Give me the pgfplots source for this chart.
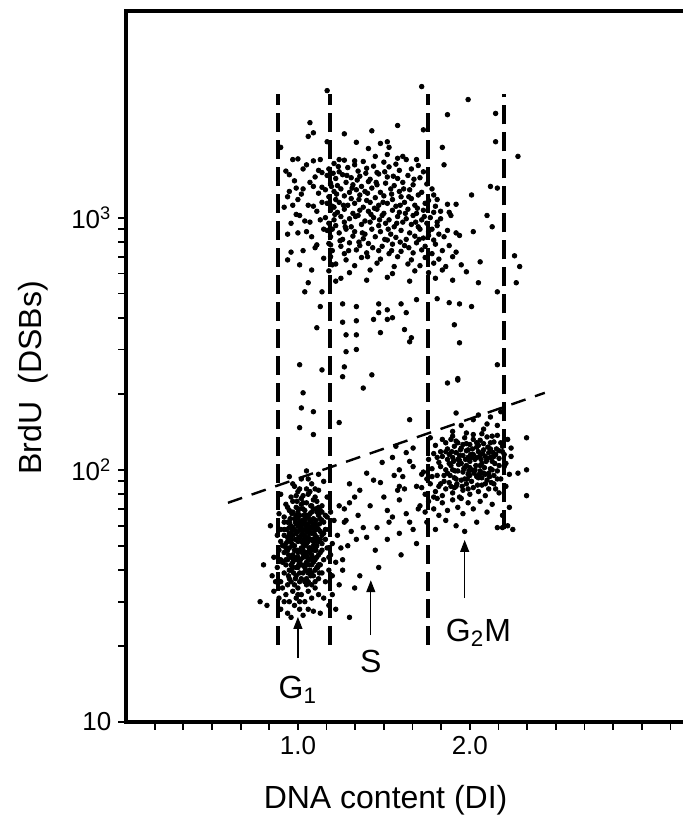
\documentclass[border=0pt]{standalone}
\usepackage{fontspec}
\setmainfont{Liberation Sans}
\usepackage{pgfplots}
\pgfplotsset{compat=1.18}
\usetikzlibrary{arrows.meta}
\begin{document}
\begin{tikzpicture}
\path[use as bounding box] (-63pt,-51.5pt) rectangle (278.5pt,361pt);
\begin{axis}[
  scale only axis, width=278.5pt, height=355.5pt,
  xmin=0, xmax=3.24, ymin=10, ymax=6600, ymode=log,
  axis x line*=box, axis y line*=left,
  separate axis lines,
  every outer x axis line/.append style={-},
  every outer y axis line/.append style={-},
  xtick={1,2}, xticklabels={1.0,2.0},
  minor xtick={0.1667,0.3333,0.5,0.6667,0.8333,1.1667,1.3333,1.5,1.6667,1.8333,2.1667,2.3333,2.5,2.6667,2.8333,3,3.1667},
  ytick={10,100,1000}, yticklabels={10,10\textsuperscript{2},10\textsuperscript{3}},
  tick align=outside, xtick pos=left, ytick pos=left,
  major tick length=3.8pt, minor tick length=3.8pt,
  tick style={black, line width=0.9pt},
  ticklabel style={font=\fontsize{13}{15}\selectfont},
  xlabel={DNA content (DI)}, ylabel={BrdU\ \ (DSBs)},
  label style={font=\fontsize{16}{19}\selectfont},
  xlabel style={at={(axis description cs:0.466,-0.11)}, anchor=center},
  ylabel style={at={(axis description cs:-0.167,0.484)}, anchor=center},
  clip=false,
]
% gates
\addplot[black, line width=1.8pt, dash pattern=on 9.5pt off 4pt] coordinates {(0.884,20.2)(0.884,3080)};
\addplot[black, line width=1.8pt, dash pattern=on 9.5pt off 4pt] coordinates {(1.186,20.2)(1.186,3080)};
\addplot[black, line width=1.8pt, dash pattern=on 9.5pt off 4pt] coordinates {(1.756,20.2)(1.756,3080)};
\addplot[black, line width=1.8pt, dash pattern=on 9.5pt off 4pt] coordinates {(2.198,58)(2.198,3080)};
\addplot[black, line width=1.2pt, dash pattern=on 7.5pt off 5pt] coordinates {(0.593,74)(2.436,202)};
% G1 cluster
\addplot[only marks, mark=*, mark size=1.15pt, black] coordinates {
(1.02,92)(1.08,88)(1.12,96)(0.98,86)(1.15,90)(1.05,99)(1.10,84)(0.95,94)
(0.96,78)(1.00,82)(1.03,74)(1.06,80)(1.09,76)(1.12,83)(1.14,72)(0.93,73)(0.99,71)(1.05,84)(1.11,70)(1.17,78)(0.90,80)(1.02,77)(1.08,72)
(0.92,65)(0.94,62)(0.97,68)(0.99,61)(1.01,66)(1.03,63)(1.04,69)(1.06,60)(1.07,67)(1.09,64)(1.10,61)(1.12,66)(1.13,69)(1.15,62)(1.17,65)(1.19,68)(0.89,67)(0.95,69)(1.00,64)(1.02,60)(1.05,66)(1.08,62)(1.11,68)(1.14,63)(1.21,63)
(0.88,55)(0.90,52)(0.92,58)(0.93,51)(0.95,56)(0.96,53)(0.97,59)(0.98,50)(1.00,57)(1.01,54)(1.02,52)(1.03,58)(1.04,55)(1.05,51)(1.06,59)(1.07,53)(1.08,56)(1.09,50)(1.10,58)(1.11,54)(1.12,52)(1.13,57)(1.14,55)(1.16,53)(1.18,58)(1.20,51)(0.94,54)(0.99,56)(1.01,59)(1.04,50)(1.06,54)(1.08,59)(1.10,52)(1.15,56)(1.23,55)
(0.86,45)(0.89,48)(0.91,43)(0.92,47)(0.94,44)(0.95,49)(0.96,42)(0.97,46)(0.98,48)(0.99,44)(1.00,47)(1.01,43)(1.02,49)(1.03,45)(1.04,42)(1.05,47)(1.06,44)(1.07,49)(1.08,46)(1.09,43)(1.10,48)(1.11,45)(1.12,42)(1.13,47)(1.15,44)(1.17,49)(1.19,46)(0.93,49)(0.97,43)(1.00,45)(1.03,48)(1.05,43)(1.08,42)(1.14,48)(1.22,43)
(0.85,38)(0.88,41)(0.90,36)(0.92,39)(0.93,42)(0.95,37)(0.96,40)(0.98,35)(0.99,38)(1.00,41)(1.01,36)(1.03,39)(1.04,41)(1.05,37)(1.07,40)(1.08,35)(1.09,38)(1.11,41)(1.12,37)(1.14,39)(1.16,36)(1.18,40)(0.94,35)(0.97,41)(1.02,37)(1.06,39)(1.10,36)(1.13,42)(0.87,36)(1.20,38)
(0.86,33)(0.89,31)(0.91,34)(0.93,32)(0.95,30)(0.97,33)(0.99,31)(1.00,34)(1.02,32)(1.04,30)(1.06,33)(1.08,31)(1.10,34)(1.12,32)(0.92,30)(1.01,30)(1.05,35)(1.15,31)
(0.90,28)(0.94,27)(0.98,29)(1.01,28)(1.03,26.5)(1.06,28)(0.96,26)(1.09,27.5)(0.82,29)(1.13,27)
(0.80,42)(0.78,30)(1.25,49)(1.27,62)(1.24,72)(1.26,40)(0.84,60)(1.18,29)(1.20,32)
(0.935,58)(0.945,46)(0.955,64)(0.965,51)(0.975,39)(0.985,62)(0.995,48)(1.005,70)(1.015,44)(1.025,56)(1.035,66)(1.045,40)(1.055,61)(1.065,49)(1.075,72)(1.085,45)(1.095,57)(1.105,63)(1.115,41)
(0.94,71)(0.96,60)(0.98,45)(1.00,52)(1.02,73)(1.04,62)(1.06,47)(1.08,68)(1.10,55)(1.12,46)(0.95,40)(0.97,55)(0.99,66)(1.01,39)(1.03,61)(1.05,57)(1.07,44)(1.09,70)(1.11,59)
(0.93,44)(0.97,75)(1.01,62)(1.05,74)(1.09,52)(1.13,64)(0.96,36)(1.00,32)(1.04,36)(1.08,39)(0.94,52)(0.98,58)(1.02,42)(1.06,65)(1.10,44)(1.14,51)(0.99,53)(1.03,51)(1.07,58)(1.11,75)
(0.95,59)(1.04,53)(1.00,60)(1.06,36)(1.12,58)(0.92,62)(1.16,66)(0.90,58)(1.18,45)
(0.94,48)(0.955,55)(0.965,67)(0.975,44)(0.985,53)(0.995,75)(1.005,42)(1.015,58)(1.025,47)(1.035,53)(1.045,64)(1.055,45)(1.065,56)(1.075,38)(1.085,60)(1.095,48)(1.105,70)(1.115,53)(1.125,61)
(0.95,62)(0.96,45)(0.97,50)(0.98,64)(0.99,41)(1.00,68)(1.01,48)(1.02,55)(1.03,70)(1.04,46)(1.05,60)(1.06,52)(1.07,63)(1.08,48)(1.09,60)(1.10,40)(1.11,50)(1.12,71)(1.13,53)
(0.945,38)(0.965,57)(0.985,37)(1.005,54)(1.025,63)(1.045,58)(1.065,42)(1.085,53)(1.105,48)(1.125,39)(0.99,79)(1.03,79)(1.07,82)(1.01,84)(0.97,88)(1.06,92)(1.10,78)(1.14,68)(1.16,58)(0.91,50)(0.90,44)(0.92,55)
};
% S phase
\addplot[only marks, mark=*, mark size=1.15pt, black] coordinates {
(1.36,83)(1.48,89)(1.44,91)(1.38,59)(1.46,59)(1.40,54)(1.34,53)(1.52,53)(1.26,44)(1.36,38)
(1.59,56)(1.65,62)(1.63,67)(1.59,76)(1.58,83)(1.61,94)(1.49,107)(1.55,112)(1.63,117)(1.67,122)
(1.59,100)(1.69,86)(1.52,69)(1.55,65)(1.67,58)(1.69,51)(1.30,74)(1.28,63)(1.59,86)(1.67,103)
(1.30,88)(1.33,78)(1.27,70)(1.31,57)(1.29,50)(1.35,66)(1.42,72)(1.45,48)(1.50,78)(1.56,95)
(1.62,84)(1.40,97)(1.53,62)(1.47,41)(1.33,34)(1.60,46)(1.70,70)(1.72,96)(1.65,108)(1.57,124)
(1.22,28)(1.30,26)(1.24,35)
};
% G2M cluster
\addplot[only marks, mark=*, mark size=1.15pt, black] coordinates {
(1.95,150)(2.02,158)(2.08,145)(2.12,162)(2.16,150)(1.90,142)(2.05,165)(2.18,170)(1.98,140)(2.10,152)
(1.80,125)(1.84,132)(1.87,121)(1.90,136)(1.93,128)(1.95,122)(1.97,134)(2.00,126)(2.02,138)(2.04,123)(2.06,131)(2.08,127)(2.10,135)(2.12,121)(2.14,129)(2.16,137)(2.19,124)(2.22,132)(1.77,134)(1.99,120)(2.07,139)(1.92,130)
(1.76,110)(1.79,116)(1.82,107)(1.84,113)(1.86,118)(1.88,106)(1.90,112)(1.92,117)(1.94,109)(1.96,114)(1.98,119)(2.00,108)(2.02,115)(2.03,110)(2.05,118)(2.07,106)(2.09,113)(2.11,117)(2.13,108)(2.15,115)(2.17,111)(2.19,118)(2.21,106)(2.24,113)(1.95,106)(2.01,112)(2.06,114)(2.12,112)
(1.73,98)(1.75,92)(1.78,101)(1.81,95)(1.83,103)(1.85,90)(1.87,97)(1.89,104)(1.91,93)(1.93,99)(1.95,91)(1.97,102)(1.99,96)(2.01,90)(2.03,100)(2.04,94)(2.06,104)(2.08,97)(2.10,91)(2.12,101)(2.14,95)(2.16,99)(2.18,92)(2.20,103)(2.23,96)(1.86,100)(1.96,98)(2.00,102)(2.05,93)(2.11,97)
(1.72,85)(1.74,80)(1.77,88)(1.80,82)(1.82,86)(1.84,79)(1.86,84)(1.88,89)(1.90,81)(1.92,86)(1.94,78)(1.96,83)(1.98,88)(2.00,80)(2.02,85)(2.05,82)(2.07,87)(2.09,79)(2.11,84)(2.14,88)(2.17,81)(2.21,86)(1.79,78)(1.89,86)(1.99,84)
(1.71,72)(1.74,68)(1.76,75)(1.79,70)(1.82,66)(1.84,74)(1.87,69)(1.90,76)(1.93,71)(1.96,67)(1.99,74)(2.02,70)(2.06,75)(2.10,68)(2.13,73)(1.81,77)(1.95,77)(2.19,66)
(1.75,62)(1.80,58)(1.86,63)(1.92,60)(1.97,57)(2.04,62)(2.22,60)(2.25,58)
(2.33,134)(2.33,100)(2.33,79)(2.28,97)(2.24,122)(2.23,71)(2.19,59)(2.16,59)
(1.885,95)(1.905,108)(1.925,88)(1.945,120)(1.965,101)(1.985,92)(2.005,115)(2.025,97)(2.045,87)(2.065,110)(2.085,102)(2.105,123)(2.125,89)(2.145,106)
(1.895,118)(1.915,99)(1.935,105)(1.955,86)(1.975,110)(1.995,99)(2.015,121)(2.035,104)(2.055,96)(2.075,116)(2.095,108)(2.115,94)(2.135,117)(2.155,121)
(1.87,110)(1.91,124)(1.98,127)(2.04,128)(2.13,100)(2.17,104)(2.20,115)(1.85,95)(1.83,118)(2.09,88)
(1.86,128)(1.88,115)(1.90,100)(1.92,92)(1.94,114)(1.96,126)(1.98,104)(2.00,95)(2.02,132)(2.04,112)(2.06,99)(2.08,120)(2.10,110)(2.12,128)(2.14,113)(2.16,92)
(2.18,128)(1.89,132)(1.93,110)(1.97,92)(2.01,100)(2.05,125)(2.09,96)(2.13,136)(2.17,119)(1.91,85)(1.99,112)(2.07,93)(2.15,84)(1.78,94)(1.81,112)(1.83,88)
};
% BrdU-positive cluster
\addplot[only marks, mark=*, mark size=1.15pt, black] coordinates {
(1.21,1640)(1.27,1690)(1.33,1620)(1.38,1670)(1.44,1600)(1.50,1660)(1.57,1630)(1.63,1700)(1.70,1610)
(1.18,1560)(1.24,1520)(1.29,1580)(1.35,1530)(1.40,1570)(1.46,1510)(1.53,1590)(1.59,1540)(1.66,1560)(1.73,1520)
(1.17,1470)(1.22,1430)(1.26,1480)(1.31,1440)(1.36,1460)(1.42,1420)(1.47,1490)(1.52,1450)(1.58,1430)(1.64,1470)(1.71,1440)
(1.19,1370)(1.23,1340)(1.28,1380)(1.32,1350)(1.37,1330)(1.41,1390)(1.46,1350)(1.51,1370)(1.56,1340)(1.61,1380)(1.67,1350)(1.75,1360)
(1.16,1290)(1.21,1270)(1.25,1300)(1.30,1260)(1.34,1290)(1.39,1270)(1.43,1310)(1.48,1260)(1.54,1300)(1.59,1270)(1.65,1290)(1.72,1260)(1.78,1300)
(1.18,1210)(1.22,1180)(1.27,1220)(1.31,1190)(1.36,1230)(1.40,1170)(1.45,1200)(1.50,1220)(1.55,1180)(1.60,1210)(1.66,1190)(1.70,1230)(1.76,1170)
(1.17,1140)(1.20,1110)(1.24,1150)(1.29,1120)(1.33,1140)(1.38,1100)(1.42,1150)(1.47,1120)(1.52,1140)(1.57,1110)(1.62,1150)(1.68,1120)(1.74,1140)(1.80,1110)
(1.19,1070)(1.23,1050)(1.27,1080)(1.32,1040)(1.36,1070)(1.41,1060)(1.46,1080)(1.50,1040)(1.55,1070)(1.59,1050)(1.64,1080)(1.69,1040)(1.73,1070)(1.79,1050)
(1.16,1000)(1.21,980)(1.25,1010)(1.30,990)(1.35,1020)(1.39,970)(1.44,1000)(1.49,1020)(1.53,980)(1.58,1010)(1.63,990)(1.67,1020)(1.72,980)(1.77,1000)(1.83,990)
(1.18,950)(1.22,930)(1.27,960)(1.31,920)(1.37,940)(1.42,960)(1.47,930)(1.51,950)(1.56,920)(1.61,960)(1.66,940)(1.70,920)(1.75,950)(1.81,930)
(1.17,890)(1.24,870)(1.28,900)(1.33,880)(1.39,860)(1.43,900)(1.48,880)(1.54,860)(1.60,890)(1.65,870)(1.71,900)(1.76,880)(1.82,860)(1.87,890)
(1.19,840)(1.26,820)(1.32,845)(1.38,825)(1.45,840)(1.52,815)(1.57,835)(1.63,820)(1.68,845)(1.73,830)(1.79,815)(1.85,840)
(1.18,790)(1.25,770)(1.30,795)(1.36,775)(1.41,790)(1.49,770)(1.55,785)(1.62,775)(1.69,795)(1.74,770)(1.80,785)(1.88,775)
(1.20,740)(1.27,720)(1.34,745)(1.40,725)(1.47,740)(1.53,720)(1.60,735)(1.67,725)(1.72,745)(1.78,720)(1.84,740)(1.92,730)
(1.19,700)(1.28,680)(1.37,695)(1.48,685)(1.58,700)(1.66,680)(1.74,695)(1.82,685)(1.90,700)
(1.22,655)(1.33,645)(1.46,660)(1.56,640)(1.64,655)(1.71,645)(1.79,660)(1.86,640)(1.95,650)
(1.18,615)(1.30,605)(1.42,620)(1.55,600)(1.68,615)(1.76,605)(1.84,620)(1.98,610)
(1.25,575)(1.40,565)(1.52,580)(1.65,560)(1.80,575)(1.90,565)
(1.235,1595)(1.285,1470)(1.345,1410)(1.395,1500)(1.455,1380)(1.505,1520)(1.555,1460)(1.615,1300)(1.675,1420)
(1.225,1240)(1.265,1120)(1.315,1310)(1.355,1180)(1.405,1250)(1.445,1090)(1.495,1150)(1.545,1240)(1.595,1120)(1.645,1210)(1.695,1090)
(1.215,1030)(1.275,920)(1.335,1010)(1.375,870)(1.425,1030)(1.475,980)(1.525,900)(1.575,950)(1.625,1040)(1.685,960)(1.735,1010)
(1.245,810)(1.295,740)(1.355,800)(1.405,700)(1.435,760)(1.505,820)(1.545,740)(1.595,800)(1.645,760)(1.705,820)
(1.76,850)(1.78,900)(1.81,960)(1.83,1060)(1.81,1180)(1.79,1230)(1.20,900)(1.21,1100)(1.195,1330)(1.205,1500)(1.19,780)(1.20,650)(1.22,560)
(0.93,1530)(0.95,1270)(0.97,1120)(0.99,1030)(1.02,1240)(1.04,970)(1.07,1380)(1.09,1110)(1.12,1540)(1.14,1150)
(1.15,900)(1.13,1700)(1.05,1620)(1.00,870)(1.11,780)(1.15,690)(1.07,960)(0.96,730)(1.03,740)(1.14,1320)
(1.17,3190)(1.72,3310)(1.99,2940)(1.87,2560)(2.15,2590)(1.07,2380)(1.09,2170)(1.27,2150)(1.43,2210)(1.58,2320)
(1.17,2000)(1.34,1990)(1.41,1880)(1.48,1970)(1.52,2000)(1.53,1900)(2.15,2000)(1.84,1900)(1.73,2230)
(0.97,1700)(1.00,1710)(1.09,1680)(1.24,1700)(1.33,1680)(1.45,1750)(1.52,1780)(1.58,1720)(1.61,1750)(1.69,1700)(1.85,1620)(2.28,1750)
(0.95,1480)(1.14,1510)(2.01,1230)(2.12,1330)(2.16,1310)(0.99,1310)(1.03,1300)(1.09,1330)(0.94,1210)(1.00,1180)(1.06,1120)(1.11,1060)(1.01,1020)
(1.87,1130)(1.92,1130)(1.88,1050)(1.89,1020)(2.10,1020)(2.13,920)(2.02,880)(1.92,870)(1.94,850)(0.94,860)(1.08,840)
(1.01,650)(1.06,552)(1.04,508)(1.13,444)(1.14,508)(1.34,444)(1.26,455)(1.47,455)(1.52,431)(1.47,420)(1.60,455)(1.63,420)(1.55,401)(1.52,395)(1.44,395)(1.34,390)(1.26,385)
(1.11,366)(1.28,343)(1.34,343)(1.48,350)(1.62,360)(1.66,334)(1.65,322)(1.69,473)(1.81,477)(1.88,460)(1.94,455)(2.01,444)(1.91,376)(1.94,319)
(1.28,294)(1.34,300)(1.01,261)(1.14,249)(1.27,256)(1.43,238)(1.26,234)(1.38,211)(1.03,202)(1.87,221)(1.93,227)(2.16,261)
(2.26,706)(2.29,640)(2.27,552)(2.06,668)(2.05,552)(2.16,508)
(1.02,176)(1.09,170)(1.01,147)(1.09,138)(1.24,154)(1.65,158)(1.92,168)(1.93,230)
(0.92,1100)(0.96,950)(1.05,880)(1.10,760)(0.98,1400)(1.03,1560)(1.12,1250)(0.94,680)(1.08,620)(1.13,980)(0.90,1900)(1.06,2100)(1.10,1450)
};
% heavy frame: left, bottom and top (the right side is cut off)
\draw[line width=2pt, line cap=rect] (rel axis cs:1,1) -- (rel axis cs:0,1) -- (rel axis cs:0,0) -- (rel axis cs:1,0);
% annotations
\draw[-{Triangle[length=6pt,width=4.5pt]}, line width=0.6pt] (axis cs:1,17.9) -- (axis cs:1,26.1);
\draw[-{Triangle[length=6pt,width=4.5pt]}, line width=0.6pt] (axis cs:1.424,22.1) -- (axis cs:1.424,36.5);
\draw[-{Triangle[length=6pt,width=4.5pt]}, line width=0.6pt] (axis cs:1.97,31) -- (axis cs:1.97,52.7);
\node[font=\fontsize{16}{19}\selectfont] at (axis cs:1,13.4) {G\textsubscript{1}};
\node[font=\fontsize{16}{19}\selectfont] at (axis cs:1.424,17.3) {S};
\node[font=\fontsize{16}{19}\selectfont, anchor=west] at (axis cs:1.82,22.5) {G\textsubscript{2}M};
\end{axis}
\end{tikzpicture}
\end{document}
